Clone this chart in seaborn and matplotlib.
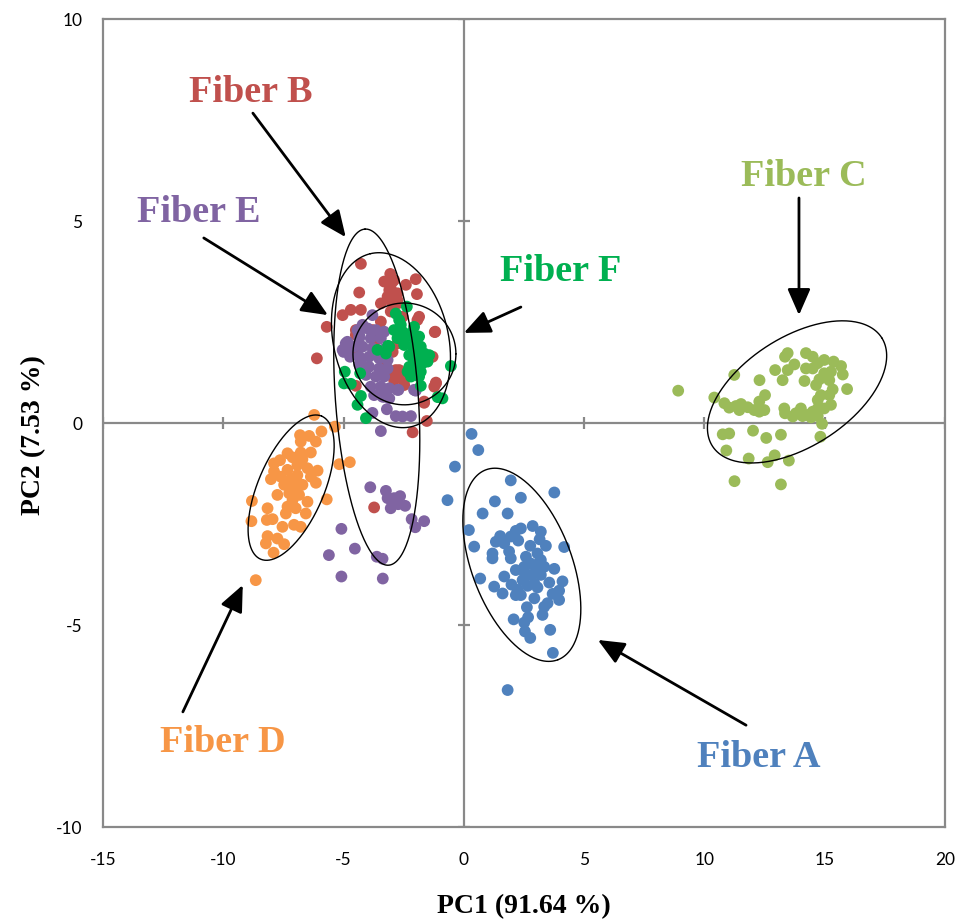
import numpy as np
import pandas as pd
import matplotlib
matplotlib.use("Agg")
import matplotlib.pyplot as plt
import seaborn as sns

sns.set_theme(style="white")
plt.rcParams["font.family"] = ["Lato", "DejaVu Sans"]
plt.rcParams["axes.unicode_minus"] = False

# PCA scores (PC1, PC2)
fiber_a_pts = [(0.32, -0.27), (0.60, -0.67), (-0.37, -1.08), (-0.68, -1.91), (1.95, -1.42), (2.37, -1.85),
               (3.76, -1.72), (1.29, -1.94), (0.78, -2.24), (1.82, -2.24), (0.21, -2.65), (0.43, -3.06),
               (4.17, -3.07), (0.68, -3.85), (1.26, -4.05), (1.61, -4.22), (1.68, -3.80), (1.98, -4.00),
               (2.07, -4.86), (2.51, -4.94), (2.67, -4.81), (2.54, -5.16), (2.76, -5.32), (3.59, -5.12),
               (3.70, -5.69), (1.82, -6.61), (4.10, -3.92), (3.96, -4.15), (3.96, -4.38), (3.76, -3.61),
               (3.55, -3.95), (3.69, -4.23), (3.27, -4.75), (3.34, -4.55), (3.48, -4.46), (2.62, -4.56),
               (2.93, -4.34), (2.86, -2.55), (3.20, -2.69), (2.37, -2.61), (2.16, -2.67), (1.95, -2.81),
               (1.51, -2.80), (1.33, -2.94), (1.68, -2.98), (2.26, -2.91), (3.15, -2.88), (3.41, -3.04),
               (2.76, -3.04), (1.19, -3.23), (1.19, -3.35), (1.88, -3.18), (1.95, -3.35), (2.58, -3.31),
               (3.06, -3.23), (3.20, -3.39), (2.99, -3.56), (3.34, -3.56), (2.16, -3.64), (2.51, -3.68),
               (2.79, -3.76), (3.20, -3.76), (2.44, -3.89), (2.93, -3.97), (2.65, -4.03), (2.23, -4.13),
               (2.37, -4.26), (2.16, -4.26), (3.06, -4.07), (2.51, -3.56), (2.79, -3.48)]

fiber_b_pts = [(-4.28, 3.94), (-3.06, 3.69), (-3.31, 3.50), (-2.96, 3.50), (-2.00, 3.56), (-2.41, 3.42),
               (-4.35, 3.23), (-3.10, 3.29), (-1.95, 3.19), (-2.83, 3.17), (-3.17, 3.13), (-3.45, 2.96),
               (-2.76, 2.96), (-4.70, 2.80), (-4.28, 2.80), (-5.04, 2.67), (-5.70, 2.38), (-6.11, 1.60),
               (-1.93, 2.55), (-1.21, 2.25), (-1.30, 1.64), (-1.23, 0.90), (-1.16, 1.00), (-1.65, 0.50),
               (-1.54, 0.05), (-2.13, -0.23), (-2.55, 2.63), (-3.45, 2.51), (-3.80, 2.30), (-3.66, 2.05),
               (-2.96, 1.76), (-3.24, 1.52), (-2.83, 1.31), (-2.62, 1.23), (-2.90, 1.06), (-2.48, 0.94),
               (-4.49, 0.92), (-2.76, 1.97), (-3.73, -2.09), (-2.90, 3.54), (-3.04, 3.33), (-2.76, 3.21),
               (-3.01, 3.00), (-2.76, 3.04), (-3.04, 2.76), (-1.86, 2.63), (-1.19, 2.26), (-4.49, 2.30),
               (-4.49, 2.18), (-4.56, 1.81), (-2.69, 1.31), (-2.83, 1.15), (-2.48, 1.06), (-1.16, 0.98),
               (-1.65, 0.53), (-2.96, 1.23)]

fiber_c_pts = [(8.91, 0.80), (11.24, 1.19), (10.41, 0.63), (10.83, 0.49), (11.03, 0.38), (11.31, 0.42),
               (11.52, 0.47), (11.45, 0.32), (11.80, 0.39), (12.07, 0.32), (12.28, 0.28), (12.49, 0.32),
               (12.28, 0.53), (12.52, 0.69), (12.29, 1.06), (12.94, 1.31), (13.25, 1.06), (13.46, 1.31),
               (13.35, 1.64), (13.46, 1.73), (13.74, 1.45), (14.16, 1.04), (14.22, 1.73), (14.50, 1.64),
               (14.22, 1.35), (14.50, 1.35), (14.71, 1.48), (14.98, 1.56), (15.37, 1.52), (15.68, 1.41),
               (15.75, 1.20), (15.26, 1.27), (14.98, 1.23), (15.19, 1.06), (14.78, 1.08), (14.64, 0.94),
               (15.33, 0.83), (15.93, 0.84), (15.19, 0.69), (14.84, 0.69), (14.71, 0.57), (15.26, 0.45),
               (14.98, 0.36), (14.71, 0.36), (14.50, 0.28), (14.29, 0.20), (14.01, 0.36), (13.80, 0.24),
               (13.67, 0.16), (13.32, 0.36), (13.35, 0.24), (14.08, 0.17), (14.43, 0.14), (14.71, 0.17),
               (14.89, -0.02), (14.82, -0.34), (10.76, -0.28), (11.03, -0.26), (12.02, -0.19), (12.57, -0.37),
               (13.18, -0.29), (10.91, -0.68), (11.84, -0.88), (12.63, -0.97), (12.92, -0.80), (13.51, -0.93),
               (11.25, -1.44), (13.18, -1.52)]

fiber_d_pts = [(-6.22, 0.20), (-5.36, -0.09), (-5.92, -0.21), (-6.81, -0.30), (-6.43, -0.32), (-6.15, -0.46),
               (-6.78, -0.46), (-6.78, -0.73), (-6.36, -0.73), (-7.12, -0.85), (-7.64, -0.92), (-7.89, -1.00),
               (-6.71, -0.90), (-6.92, -1.04), (-5.18, -1.02), (-4.74, -0.97), (-7.33, -1.16), (-6.50, -1.12),
               (-6.08, -1.18), (-7.89, -1.20), (-8.02, -1.39), (-7.61, -1.33), (-7.19, -1.39), (-6.92, -1.29),
               (-6.36, -1.33), (-6.15, -1.48), (-7.47, -1.53), (-7.06, -1.58), (-6.71, -1.53), (-7.75, -1.78),
               (-7.26, -1.74), (-6.85, -1.78), (-6.50, -1.95), (-7.12, -1.91), (-8.81, -1.93), (-5.70, -1.89),
               (-7.33, -2.07), (-6.99, -2.11), (-8.16, -2.11), (-6.57, -2.24), (-7.40, -2.24), (-8.19, -2.40),
               (-7.95, -2.38), (-8.83, -2.43), (-7.06, -2.52), (-6.78, -2.57), (-7.54, -2.57), (-8.16, -2.80),
               (-7.75, -2.86), (-8.23, -2.98), (-7.47, -3.00), (-7.91, -3.21), (-8.65, -3.89), (-7.33, -0.75),
               (-6.99, -1.41)]

fiber_e_pts = [(-3.80, 2.67), (-4.21, 2.43), (-4.42, 2.30), (-4.00, 2.34), (-3.66, 2.30), (-3.31, 2.26),
               (-4.35, 2.10), (-3.87, 2.10), (-3.45, 2.10), (-4.84, 2.01), (-4.56, 1.89), (-5.04, 1.81),
               (-4.21, 1.89), (-3.80, 1.85), (-3.38, 1.81), (-4.73, 1.64), (-4.35, 1.64), (-3.94, 1.64),
               (-3.52, 1.60), (-3.17, 1.56), (-4.35, 1.44), (-3.94, 1.39), (-3.52, 1.35), (-3.17, 1.35),
               (-4.07, 1.19), (-3.66, 1.15), (-3.31, 1.15), (-3.87, 0.90), (-3.45, 0.90), (-3.10, 0.86),
               (-2.76, 0.82), (-3.38, 0.65), (-3.10, 0.61), (-2.00, 0.80), (-3.80, 0.25), (-3.20, 0.34),
               (-2.83, 0.17), (-2.55, 0.16), (-2.20, 0.17), (-3.45, -0.20), (-3.89, -1.59), (-3.24, -1.68),
               (-3.17, -1.86), (-2.90, -1.86), (-2.65, -1.81), (-3.04, -2.11), (-2.73, -2.01), (-2.44, -2.05),
               (-2.17, -2.38), (-2.02, -2.58), (-1.65, -2.43), (-5.09, -2.62), (-4.53, -3.11), (-5.61, -3.27),
               (-3.62, -3.31), (-3.38, -3.36), (-5.09, -3.80), (-3.37, -3.85), (-4.91, 1.97), (-5.00, 1.76),
               (-4.63, 1.89), (-4.28, 1.48), (-4.35, 2.18), (-3.73, 0.69), (-3.31, 0.65), (-2.72, 0.82),
               (-2.07, 0.82)]

fiber_f_pts = [(-2.37, 2.88), (-2.83, 2.71), (-2.69, 2.55), (-2.07, 2.38), (-2.90, 2.30), (-2.55, 2.26),
               (-2.34, 2.14), (-2.76, 2.10), (-2.00, 2.05), (-2.48, 1.93), (-2.13, 1.89), (-1.79, 1.89),
               (-1.65, 1.72), (-1.44, 1.68), (-1.93, 1.68), (-2.27, 1.68), (-2.07, 1.52), (-1.72, 1.48),
               (-1.51, 1.52), (-2.27, 1.39), (-2.00, 1.27), (-2.34, 1.27), (-1.86, 1.15), (-2.20, 1.15),
               (-3.59, 1.81), (-3.15, 1.91), (-3.24, 1.72), (-0.54, 1.41), (-4.95, 1.27), (-4.31, 1.23),
               (-4.98, 0.98), (-4.70, 0.97), (-1.79, 0.92), (-1.09, 0.64), (-0.89, 0.61), (-4.28, 0.67),
               (-4.42, 0.45), (-4.07, 0.12), (-2.62, 2.43), (-2.20, 2.22), (-1.86, 2.14), (-1.93, 1.81),
               (-1.65, 1.60), (-2.13, 1.64), (-2.00, 1.39), (-1.79, 1.27), (-3.10, 1.89), (-2.07, 1.27)]

fibers = ["Fiber A", "Fiber B", "Fiber C", "Fiber D", "Fiber E", "Fiber F"]
colors = ["#4F81BD", "#C0504D", "#9BBB59", "#F79646", "#8064A2", "#00B050"]

# hand-drawn ellipses: centre, half-axis vectors (data units)
ell_center = [(2.41, -3.51), (-3.03, 2.05), (13.85, 0.77), (-7.18, -1.60), (-3.62, 0.64), (-2.47, 1.71)]
ell_u = [(1.50, -2.35), (-0.86, 2.14), (3.52, 1.34), (1.27, 1.77), (-0.49, 4.16), (2.14, 0.0)]
ell_v = [(1.94, 0.44), (-2.32, -0.33), (-1.22, 1.14), (-1.26, 0.32), (-1.72, -0.07), (0.0, 1.26)]

# labels and arrows
label_pos = [(12.27, -8.29), (-8.86, 8.19), (14.14, 6.09), (-10.02, -7.92), (-11.02, 5.22), (4.03, 3.74)]
arrow_tail = [(11.73, -7.48), (-8.77, 7.67), (13.93, 5.57), (-11.68, -7.15), (-10.81, 4.58), (2.37, 2.87)]
arrow_head = [(5.57, -5.37), (-4.91, 4.60), (13.93, 2.67), (-9.19, -4.01), (-5.65, 2.67), (0.0, 2.23)]

xticks = [-15, -10, -5, 0, 5, 10, 15, 20]
yticks = [-10, -5, 0, 5, 10]

all_pts = [fiber_a_pts, fiber_b_pts, fiber_c_pts, fiber_d_pts, fiber_e_pts, fiber_f_pts]
rows = []
for name, pts in zip(fibers, all_pts):
    for x, y in pts:
        rows.append({"fiber": name, "pc1": x, "pc2": y})
df = pd.DataFrame(rows)

gray = "#898989"
fig = plt.figure(figsize=(9.55, 9.22), dpi=100)
ax = fig.add_axes([103 / 955, 95 / 922, 842 / 955, 808 / 922])

ax.axhline(0, color=gray, lw=1.6, zorder=1)
ax.axvline(0, color=gray, lw=1.6, zorder=1)
ax.plot([t for t in xticks if t != 0], [0] * 7, ls="none", marker="|", ms=8, mew=1.6, color=gray, zorder=1)
ax.plot([0] * 4, [t for t in yticks if t != 0], ls="none", marker="_", ms=9, mew=1.6, color=gray, zorder=1)

sns.scatterplot(data=df, x="pc1", y="pc2", hue="fiber", palette=dict(zip(fibers, colors)),
                s=72, linewidth=0, alpha=1, legend=False, ax=ax, zorder=3)

t = np.linspace(0, 2 * np.pi, 300)
for c, u, v in zip(ell_center, ell_u, ell_v):
    ex = c[0] + u[0] * np.cos(t) + v[0] * np.sin(t)
    ey = c[1] + u[1] * np.cos(t) + v[1] * np.sin(t)
    ax.plot(ex, ey, color="black", lw=1.0, zorder=4)

for name, col, lp, tail, head in zip(fibers, colors, label_pos, arrow_tail, arrow_head):
    ax.text(lp[0], lp[1], name, color=col, fontsize=27.5, fontweight="bold",
            family=["Liberation Serif"], ha="center", va="center", zorder=5)
    ax.annotate("", xy=head, xytext=tail,
                arrowprops=dict(arrowstyle="-|>,head_length=0.8,head_width=0.35", color="black",
                                lw=2.0, mutation_scale=20, shrinkA=0, shrinkB=0), zorder=5)

ax.set_xlim(-15, 20)
ax.set_ylim(-10, 10)
ax.set_xticks(xticks)
ax.set_yticks(yticks)
ax.tick_params(length=0, labelsize=12.5, colors="black")
ax.tick_params(axis="x", pad=18)
ax.tick_params(axis="y", pad=15)
for sp in ax.spines.values():
    sp.set_color(gray)
    sp.set_linewidth(1.6)

ax.set_xlabel("PC1 (91.64 %)", fontsize=20, fontweight="bold", family=["Liberation Serif"], color="black")
ax.set_ylabel("PC2 (7.53 %)", fontsize=20, fontweight="bold", family=["Liberation Serif"], color="black")
ax.xaxis.set_label_coords(0.5, -0.083)
ax.yaxis.set_label_coords(-0.068, 0.485)

fig.savefig("out.png", dpi=100)
